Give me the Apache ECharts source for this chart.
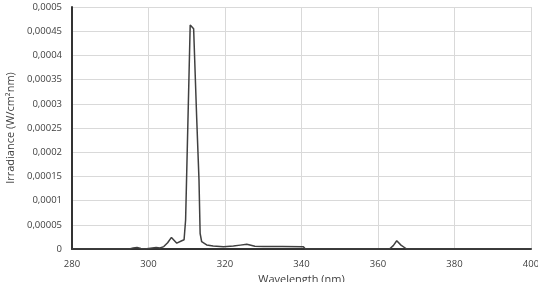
<!DOCTYPE html>
<html><head><meta charset="utf-8">
<script src="https://cdn.jsdelivr.net/npm/echarts@6/dist/echarts.min.js"></script>
<style>html,body{margin:0;padding:0;background:#fff}#c{width:538px;height:282px}</style>
</head><body><div id="c"></div>
<script>
const wavelengths = [280, 295, 296, 297, 298, 299, 300, 301, 302, 303, 304, 305, 306, 307.4, 308.7, 309.3, 309.7, 310.9, 311.8, 312.6, 313.2, 313.5, 313.9, 315.2, 316.9, 319.6, 322.2, 324, 325.7, 326.5, 327.8, 330, 335, 340.5, 341, 363, 364, 364.9, 366, 367.5, 400];
const irradiance  = [0, 0, 0.000002, 0.000003, 0.000001, 0, 0.000001, 0.000002, 0.000003, 0.000002, 0.000005, 0.000013, 0.000024, 0.000012, 0.000017, 0.000019, 0.00006, 0.000463, 0.000455, 0.00027, 0.000143, 0.000032, 0.000015, 0.0000083, 0.000006, 0.0000048, 0.000006, 0.000008, 0.0000097, 0.0000083, 0.0000055, 0.000005, 0.000005, 0.0000048, 0, 0, 0.000007, 0.000017, 0.000008, 0, 0];
const yTickLabels = ["0", "0,00005", "0,0001", "0,00015", "0,0002", "0,00025", "0,0003", "0,00035", "0,0004", "0,00045", "0,0005"];
const xTickLabels = ["280", "300", "320", "340", "360", "380", "400"];

const chart = echarts.init(document.getElementById('c'));
const font = '"Open Sans", "Noto Sans", sans-serif';
chart.setOption({
  animation: false,
  grid: {left: 72, right: 7, top: 7, bottom: 33, containLabel: false, outerBoundsMode: 'none'},
  xAxis: {
    type: 'value', min: 280, max: 400, interval: 20,
    name: 'Wavelength (nm)', nameLocation: 'middle', nameGap: 23,
    nameTextStyle: {color: '#404040', fontSize: 11, fontFamily: font},
    axisLine: {show: true, onZero: false, lineStyle: {color: '#333', width: 2}},
    axisTick: {show: false},
    axisLabel: {color: '#404040', fontSize: 9.5, fontFamily: font, margin: 10,
      formatter: (v) => xTickLabels[Math.round((v - 280) / 20)]},
    splitLine: {show: true, lineStyle: {color: '#d9d9d9', width: 1}}
  },
  yAxis: {
    type: 'value', min: 0, max: 0.0005, interval: 0.00005,
    name: 'Irradiance (W/cm²nm)', nameLocation: 'middle', nameGap: 56,
    nameTextStyle: {color: '#404040', fontSize: 11, fontFamily: font},
    axisLine: {show: true, lineStyle: {color: '#333', width: 2}},
    axisTick: {show: false},
    axisLabel: {color: '#404040', fontSize: 9.5, fontFamily: font, margin: 10,
      formatter: (v) => yTickLabels[Math.round(v / 0.00005)]},
    splitLine: {show: true, lineStyle: {color: '#d9d9d9', width: 1}}
  },
  series: [{
    type: 'line', showSymbol: false,
    data: wavelengths.map((w, i) => [w, irradiance[i]]),
    lineStyle: {color: '#404040', width: 1.5},
    smooth: false
  }]
});
</script></body></html>
